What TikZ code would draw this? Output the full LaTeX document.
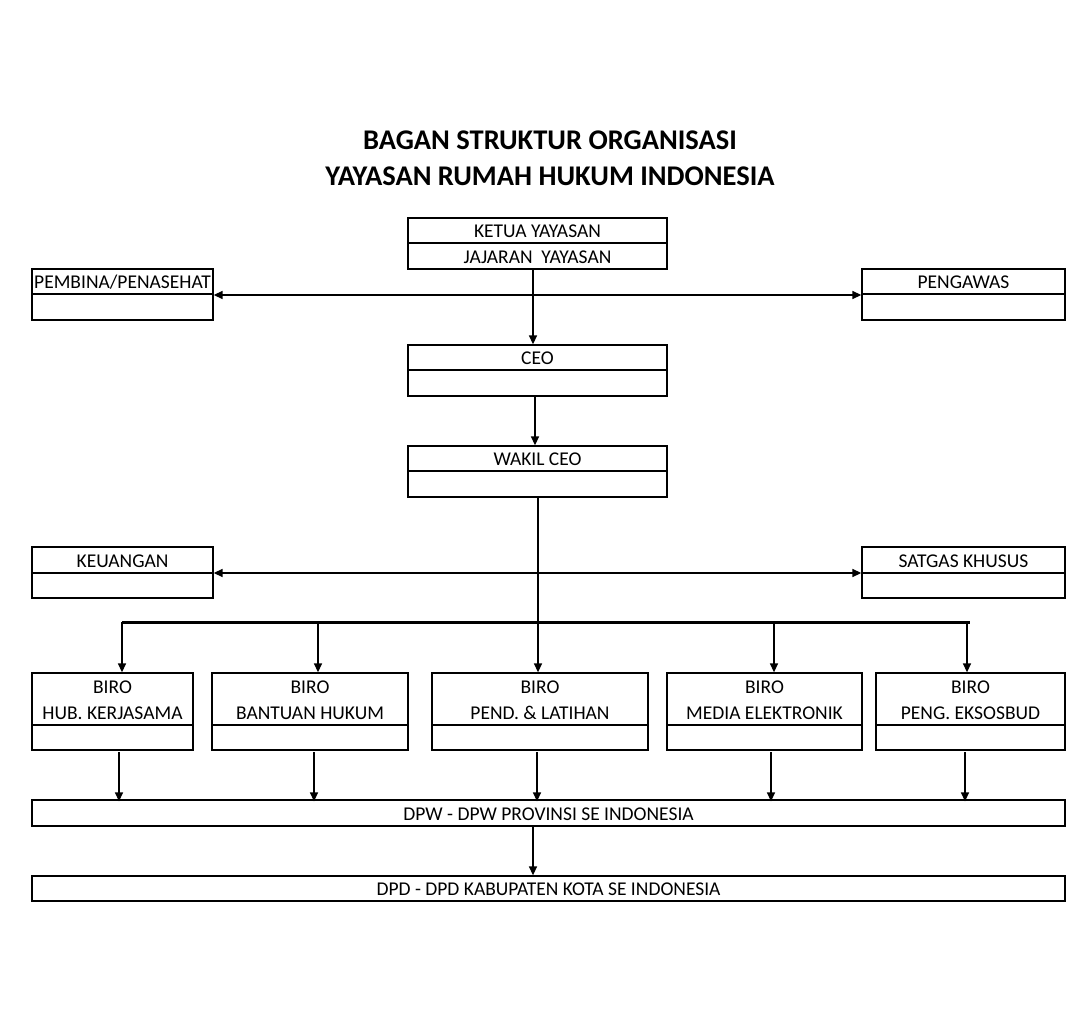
\documentclass[tikz,border=0pt]{standalone}
\usepackage{fontspec}
\setmainfont{Carlito}
\usetikzlibrary{fit,calc,arrows.meta}
\tikzset{
  boxfit/.style={draw, line width=1.3pt, inner sep=0pt},
  divline/.style={line width=1.3pt},
  txt/.style={font=\fontsize{19.5}{26}\selectfont, align=center, inner sep=0pt},
  conn/.style={line width=1.4pt, -{Triangle[length=9pt,width=8pt]}},
  biconn/.style={line width=1.4pt, {Triangle[length=9pt,width=8pt]}-{Triangle[length=9pt,width=8pt]}},
  bus/.style={line width=3pt},
}
% name, x1, y1, x2, y2, ydiv, text
\newcommand\orgbox[7]{%
  \node[boxfit, fit={(#2,#3) (#4,#5)}] (#1) {};
  \draw[divline] (#2,#6) -- (#4,#6);
  \node[txt] (#1-t) at ({(#2+#4)/2},{(#3+#6)/2+1}) {#7};
}
\newcommand\onebox[6]{%
  \node[boxfit, fit={(#2,#3) (#4,#5)}] (#1) {};
  \node[txt] (#1-t) at ([yshift=-1pt]#1.center) {#6};
}
\begin{document}
\begin{tikzpicture}[x=1pt,y=-1pt]
\useasboundingbox (0,0) rectangle (1080,1027);
\fill[white] (0,0) rectangle (1080,1027);

\node[font=\fontsize{28.5}{36}\selectfont\bfseries, align=center, inner sep=0pt] (title) at (550,158)
  {BAGAN STRUKTUR ORGANISASI\\YAYASAN RUMAH HUKUM INDONESIA};

\orgbox{ketua}{408}{218}{667}{269}{243}{KETUA YAYASAN}
\node[txt] (ketua-t2) at (537.5,257) {JAJARAN\ \ YAYASAN};
\orgbox{pembina}{32}{269}{213}{320}{294}{PEMBINA/PENASEHAT}
\orgbox{pengawas}{862}{269}{1065}{320}{294}{PENGAWAS}
\orgbox{ceo}{408}{345}{667}{396}{370}{CEO}
\orgbox{wakil}{408}{446}{667}{497}{471}{WAKIL CEO}
\orgbox{keu}{32}{547}{213}{598}{573}{KEUANGAN}
\orgbox{satgas}{862}{547}{1065}{598}{573}{SATGAS KHUSUS}

\orgbox{b1}{32}{673}{193}{750}{725}{BIRO\\HUB. KERJASAMA}
\orgbox{b2}{212}{673}{408}{750}{725}{BIRO\\BANTUAN HUKUM}
\orgbox{b3}{432}{673}{648}{750}{725}{BIRO\\PEND. \& LATIHAN}
\orgbox{b4}{667}{673}{862}{750}{725}{BIRO\\MEDIA ELEKTRONIK}
\orgbox{b5}{876}{673}{1065}{750}{725}{BIRO\\PENG. EKSOSBUD}

\onebox{dpw}{32}{800}{1065}{826}{DPW - DPW PROVINSI SE INDONESIA}
\onebox{dpd}{32}{876}{1065}{901}{DPD - DPD KABUPATEN KOTA SE INDONESIA}

% connectors
\coordinate (kb) at (533,269);
\draw[conn] (kb) -- (kb |- ceo.north);
\draw[biconn] (pembina.east |- 0,295) -- (pengawas.west |- 0,295);
\coordinate (cb) at (535,396);
\draw[conn] (cb) -- (cb |- wakil.north);
\coordinate (wb) at (538,497);
\draw[conn] (wb) -- (wb |- b3.north);
\draw[biconn] (keu.east |- 0,573) -- (satgas.west |- 0,573);

\coordinate (busL) at (122,622);
\coordinate (busR) at (970,622);
\coordinate (d2) at (318,622);
\coordinate (d4) at (774,622);
\coordinate (d5) at (967,622);
\draw[bus] (busL) -- (busR);
\draw[conn] (busL) -- (busL |- b1.north);
\draw[conn] (d2) -- (d2 |- b2.north);
\draw[conn] (d4) -- (d4 |- b4.north);
\draw[conn] (d5) -- (d5 |- b5.north);

\coordinate (e1) at (119,752);
\coordinate (e2) at (314,752);
\coordinate (e3) at (537,752);
\coordinate (e4) at (771,752);
\coordinate (e5) at (965,752);
\foreach \e in {e1,e2,e3,e4,e5}
  \draw[conn] (\e) -- ([yshift=-2pt]\e |- dpw.north);

\coordinate (dpwb) at (533,826);
\draw[conn] (dpwb) -- (dpwb |- dpd.north);
\end{tikzpicture}
\end{document}
